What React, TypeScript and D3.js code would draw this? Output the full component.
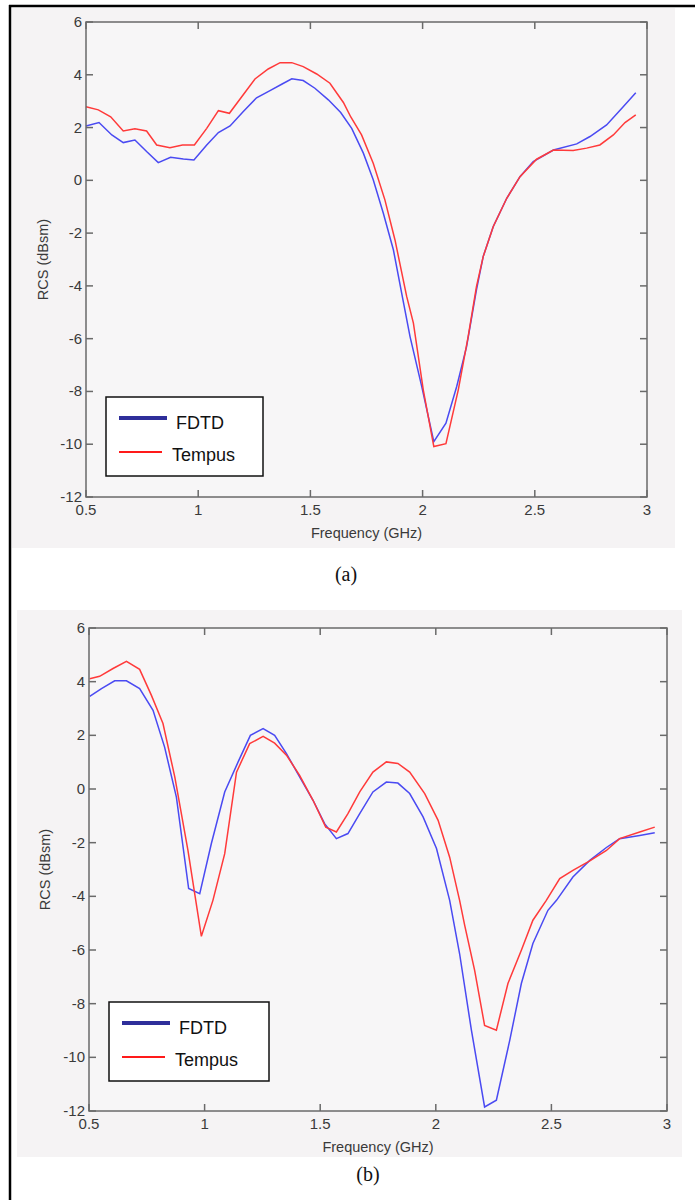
import React from "react";
import * as d3 from "d3";

// ---------- Data: panel (a) ----------
const freqFdtdA = [0.5, 0.558, 0.615, 0.666, 0.718, 0.77, 0.822, 0.877, 0.934, 0.981, 1.038, 1.09, 1.142, 1.2, 1.26, 1.32, 1.372, 1.417, 1.468, 1.52, 1.58, 1.635, 1.684, 1.736, 1.78, 1.825, 1.87, 1.914, 1.944, 1.996, 2.05, 2.104, 2.152, 2.196, 2.24, 2.27, 2.315, 2.375, 2.434, 2.493, 2.583, 2.687, 2.746, 2.82, 2.894, 2.95];
const fdtdA = [2.06, 2.19, 1.72, 1.43, 1.53, 1.09, 0.67, 0.87, 0.81, 0.77, 1.34, 1.81, 2.06, 2.6, 3.13, 3.4, 3.64, 3.85, 3.78, 3.49, 3.05, 2.57, 1.97, 1.03, 0.02, -1.25, -2.64, -4.6, -5.92, -7.81, -9.9, -9.2, -7.81, -6.3, -4.15, -2.89, -1.75, -0.68, 0.14, 0.71, 1.15, 1.38, 1.66, 2.1, 2.79, 3.32];
const freqTempusA = [0.5, 0.555, 0.61, 0.666, 0.718, 0.77, 0.815, 0.874, 0.93, 0.983, 1.038, 1.09, 1.139, 1.194, 1.253, 1.312, 1.365, 1.417, 1.468, 1.528, 1.587, 1.647, 1.68, 1.728, 1.78, 1.832, 1.877, 1.929, 1.959, 2.003, 2.05, 2.104, 2.159, 2.203, 2.24, 2.27, 2.315, 2.375, 2.434, 2.508, 2.583, 2.671, 2.731, 2.79, 2.85, 2.902, 2.95];
const tempusA = [2.79, 2.67, 2.41, 1.87, 1.95, 1.87, 1.34, 1.24, 1.34, 1.34, 1.97, 2.64, 2.54, 3.17, 3.84, 4.22, 4.46, 4.46, 4.31, 4.03, 3.68, 2.95, 2.4, 1.72, 0.65, -0.74, -2.26, -4.4, -5.41, -7.94, -10.09, -9.98, -7.94, -5.92, -4.03, -2.89, -1.75, -0.68, 0.14, 0.8, 1.15, 1.13, 1.22, 1.34, 1.72, 2.19, 2.48];

// ---------- Data: panel (b) ----------
const freqFdtdB = [0.503, 0.554, 0.611, 0.662, 0.719, 0.777, 0.827, 0.878, 0.931, 0.979, 1.029, 1.087, 1.145, 1.198, 1.253, 1.303, 1.354, 1.411, 1.469, 1.519, 1.57, 1.62, 1.671, 1.728, 1.786, 1.836, 1.887, 1.945, 2.003, 2.06, 2.103, 2.154, 2.211, 2.262, 2.32, 2.37, 2.42, 2.485, 2.522, 2.593, 2.666, 2.738, 2.795, 2.882, 2.947];
const fdtdB = [3.45, 3.74, 4.03, 4.03, 3.74, 2.93, 1.56, -0.3, -3.71, -3.9, -2.04, -0.11, 1.01, 2.0, 2.25, 2.0, 1.32, 0.45, -0.42, -1.29, -1.85, -1.66, -0.92, -0.11, 0.26, 0.22, -0.17, -1.04, -2.22, -4.15, -6.14, -8.99, -11.85, -11.6, -9.36, -7.25, -5.76, -4.52, -4.15, -3.28, -2.66, -2.18, -1.85, -1.73, -1.63];
const freqTempusB = [0.503, 0.546, 0.604, 0.662, 0.719, 0.77, 0.82, 0.871, 0.928, 0.986, 1.036, 1.087, 1.138, 1.195, 1.253, 1.303, 1.354, 1.411, 1.469, 1.524, 1.57, 1.62, 1.671, 1.728, 1.786, 1.836, 1.887, 1.952, 2.01, 2.06, 2.103, 2.125, 2.168, 2.211, 2.262, 2.312, 2.37, 2.42, 2.478, 2.536, 2.593, 2.666, 2.738, 2.795, 2.882, 2.947];
const tempusB = [4.11, 4.2, 4.49, 4.76, 4.46, 3.49, 2.44, 0.45, -2.29, -5.49, -4.15, -2.41, 0.63, 1.69, 1.96, 1.71, 1.26, 0.51, -0.42, -1.42, -1.6, -0.92, -0.11, 0.63, 1.01, 0.95, 0.63, -0.17, -1.17, -2.54, -4.15, -5.08, -6.76, -8.81, -8.99, -7.25, -6.01, -4.89, -4.15, -3.34, -3.03, -2.68, -2.29, -1.85, -1.6, -1.42];

// ---------- Axes ----------
const xTicks = [0.5, 1, 1.5, 2, 2.5, 3];
const yTicks = [6, 4, 2, 0, -2, -4, -6, -8, -10, -12];
const seriesNames = ["FDTD", "Tempus"];
const xLabel = "Frequency (GHz)";
const yLabel = "RCS (dBsm)";

const BLUE = "#4a4af2";
const RED = "#ff3a3a";
const AXIS = "#6a6a6a";
const TXT = "#3a3a3a";
const SANS = "Arial, 'Liberation Sans', sans-serif";

type PanelProps = {
  bg: { x: number; y: number; w: number; h: number };
  plot: { left: number; top: number; right: number; bottom: number };
  fA: number[]; vA: number[]; fB: number[]; vB: number[];
  legend: { x: number; y: number; w: number; h: number };
  yLabelX: number;
  caption: string; captionX: number; captionY: number;
};

function Panel(p: PanelProps) {
  const { plot } = p;
  const x = d3.scaleLinear().domain([0.5, 3]).range([plot.left, plot.right]);
  const y = d3.scaleLinear().domain([-12, 6]).range([plot.bottom, plot.top]);
  const line = d3.line<[number, number]>().x((d) => x(d[0])).y((d) => y(d[1]));
  const pathA = line(p.fA.map((f, i) => [f, p.vA[i]] as [number, number])) || "";
  const pathB = line(p.fB.map((f, i) => [f, p.vB[i]] as [number, number])) || "";
  const tl = 7;
  const lg = p.legend;
  return (
    <g>
      <rect x={p.bg.x} y={p.bg.y} width={p.bg.w} height={p.bg.h} fill="#f5f3f4" />
      <rect x={plot.left} y={plot.top} width={plot.right - plot.left} height={plot.bottom - plot.top} fill="#f7f6f7" />
      <path d={pathA} fill="none" stroke={BLUE} strokeWidth={1.5} />
      <path d={pathB} fill="none" stroke={RED} strokeWidth={1.5} />
      <rect x={plot.left} y={plot.top} width={plot.right - plot.left} height={plot.bottom - plot.top} fill="none" stroke={AXIS} strokeWidth={1.5} />
      {xTicks.map((t) => (
        <g key={"x" + t}>
          <line x1={x(t)} x2={x(t)} y1={plot.bottom} y2={plot.bottom - tl} stroke={AXIS} strokeWidth={1.5} />
          <line x1={x(t)} x2={x(t)} y1={plot.top} y2={plot.top + tl} stroke={AXIS} strokeWidth={1.5} />
          <text x={x(t)} y={plot.bottom + 18} textAnchor="middle" fontFamily={SANS} fontSize={15} fill={TXT}>{String(t)}</text>
        </g>
      ))}
      {yTicks.map((t) => (
        <g key={"y" + t}>
          <line x1={plot.left} x2={plot.left + tl} y1={y(t)} y2={y(t)} stroke={AXIS} strokeWidth={1.5} />
          <line x1={plot.right} x2={plot.right - tl} y1={y(t)} y2={y(t)} stroke={AXIS} strokeWidth={1.5} />
          <text x={plot.left - 4} y={y(t) + 5} textAnchor="end" fontFamily={SANS} fontSize={15} fill={TXT}>{String(t)}</text>
        </g>
      ))}
      <text x={(plot.left + plot.right) / 2} y={plot.bottom + 41} textAnchor="middle" fontFamily={SANS} fontSize={14.5} fill={TXT}>{xLabel}</text>
      <text transform={`translate(${p.yLabelX},${(plot.top + plot.bottom) / 2}) rotate(-90)`} textAnchor="middle" fontFamily={SANS} fontSize={14.5} fill={TXT}>{yLabel}</text>
      <rect x={lg.x} y={lg.y} width={lg.w} height={lg.h} fill="#ffffff" stroke="#111" strokeWidth={1.5} />
      <line x1={lg.x + 13} x2={lg.x + 61} y1={lg.y + 21} y2={lg.y + 21} stroke="#2e2e9a" strokeWidth={4} />
      <text x={lg.x + 70} y={lg.y + 32} fontFamily={SANS} fontSize={18} fill="#111">{seriesNames[0]}</text>
      <line x1={lg.x + 13} x2={lg.x + 56} y1={lg.y + 55} y2={lg.y + 55} stroke="#ff1a1a" strokeWidth={2} />
      <text x={lg.x + 66} y={lg.y + 64} fontFamily={SANS} fontSize={18} fill="#111">{seriesNames[1]}</text>
      <text x={p.captionX} y={p.captionY} textAnchor="middle" fontFamily="'Liberation Serif', 'Times New Roman', serif" fontSize={20} fill="#111">{p.caption}</text>
    </g>
  );
}

export default function App() {
  return (
    <svg width={695} height={1200} style={{ position: "absolute", left: 0, top: 0, background: "#fff" }}>
      <rect x={0} y={0} width={695} height={1200} fill="#fff" />
      <Panel
        bg={{ x: 12, y: 8, w: 663, h: 540 }}
        plot={{ left: 86, top: 22, right: 647, bottom: 497 }}
        fA={freqFdtdA} vA={fdtdA} fB={freqTempusA} vB={tempusA}
        legend={{ x: 106, y: 397, w: 157, h: 79 }}
        yLabelX={48}
        caption="(a)" captionX={346} captionY={581}
      />
      <Panel
        bg={{ x: 17, y: 610, w: 665, h: 547 }}
        plot={{ left: 89, top: 628, right: 667, bottom: 1111 }}
        fA={freqFdtdB} vA={fdtdB} fB={freqTempusB} vB={tempusB}
        legend={{ x: 109, y: 1002, w: 160, h: 79 }}
        yLabelX={50}
        caption="(b)" captionX={368} captionY={1181}
      />
      <line x1={10} x2={10} y1={5} y2={1200} stroke="#000" strokeWidth={2.5} />
      <line x1={9} x2={695} y1={6} y2={6} stroke="#000" strokeWidth={2.5} />
    </svg>
  );
}
